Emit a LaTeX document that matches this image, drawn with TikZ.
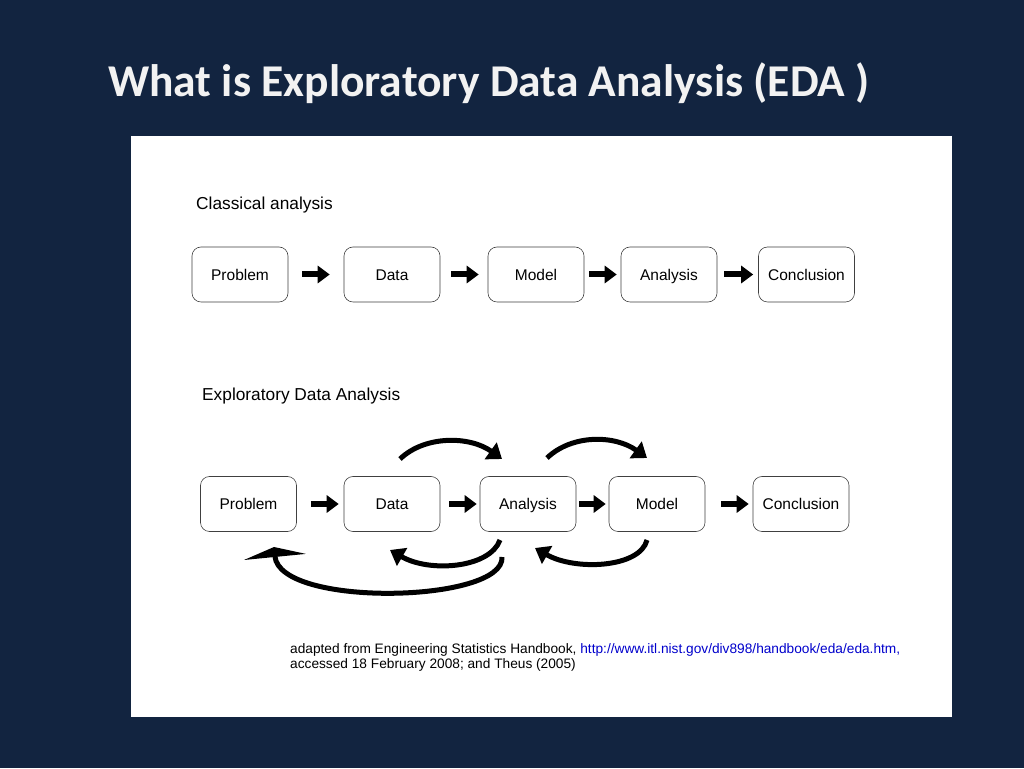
\documentclass[tikz,border=0pt]{standalone}
\usepackage{fontspec}
\setmainfont{Liberation Sans}
\newfontfamily\titlefont{Carlito}
\usetikzlibrary{arrows.meta}
\definecolor{slidebg}{RGB}{18,36,64}
\definecolor{titlewhite}{RGB}{242,242,242}
\definecolor{linkblue}{RGB}{0,0,204}

\begin{document}
\begin{tikzpicture}[x=1pt, y=1pt,
    stage/.style={draw=black!75, line width=0.6pt, rounded corners=9pt, fill=white,
        minimum width=96pt, minimum height=55pt, inner sep=0pt, text height=13pt, text depth=1pt,
        font=\fontsize{15.5}{18}\selectfont},
    flow/.style={line width=6pt, -{Triangle[length=12pt,width=17pt]}},
    feedback/.style={line width=5pt, -{Triangle[length=14pt,width=20pt]}},
    heading/.style={anchor=base west, inner sep=0pt, font=\fontsize{17.3}{20}\selectfont}]

    % ================= SLIDE =================
    \useasboundingbox (0,0) rectangle (1024,768);
    \fill[slidebg] (0,0) rectangle (1024,768);
    \fill[white] (131,51) rectangle (952,632);

    \node[anchor=base west, inner sep=0pt, text=titlewhite,
        font=\titlefont\bfseries\fontsize{45.5}{50}\selectfont] (title) at (108,671)
        {What is Exploratory Data Analysis (EDA )};

    % ================= CLASSICAL (top row) =================
    \node[heading] (clab) at (196,558) {Classical analysis};

    \node[stage] (cprob)  at (240,493.5)   {Problem};
    \node[stage] (cdata)  at (392,493.5)   {Data};
    \node[stage] (cmodel) at (536,493.5)   {Model};
    \node[stage] (cana)   at (669,493.5)   {Analysis};
    \node[stage] (cconc)  at (806.5,493.5) {Conclusion};

    \draw[flow, shorten <=14pt, shorten >=14pt] (cprob.east)  -- (cdata.west);
    \draw[flow, shorten <=11pt, shorten >=9pt]  (cdata.east)  -- (cmodel.west);
    \draw[flow, shorten <=5pt, shorten >=4pt]   (cmodel.east) -- (cana.west);
    \draw[flow, shorten <=7pt, shorten >=5pt]   (cana.east)   -- (cconc.west);

    % ================= EDA (bottom row) =================
    \node[heading] (elab) at (202,367) {Exploratory Data Analysis};

    \node[stage] (eprob)  at (248.5,264) {Problem};
    \node[stage] (edata)  at (392,264)   {Data};
    \node[stage] (eana)   at (528,264)   {Analysis};
    \node[stage] (emodel) at (657,264)   {Model};
    \node[stage] (econc)  at (801,264)   {Conclusion};

    \draw[flow, shorten <=14pt, shorten >=5pt] (eprob.east)  -- (edata.west);
    \draw[flow, shorten <=9pt, shorten >=3pt]  (edata.east)  -- (eana.west);
    \draw[flow, shorten <=3pt, shorten >=3pt]  (eana.east)   -- (emodel.west);
    \draw[flow, shorten <=16pt, shorten >=4pt] (emodel.east) -- (econc.west);

    % Loop ends (above and below the row)
    \coordinate (over1s)  at (400,309);  % above Data
    \coordinate (over1e)  at (502,309);  % above Analysis
    \coordinate (over2s)  at (547,310);
    \coordinate (over2e)  at (647,310);  % above Model
    \coordinate (under1s) at (500,228);  % below Analysis
    \coordinate (under1e) at (390,218);  % below Data
    \coordinate (under2s) at (647,228);  % below Model
    \coordinate (under2e) at (535,220);
    \coordinate (backs)   at (502,211);  % back to Problem
    \coordinate (backe)   at (274,221);

    \draw[feedback] (over1s) .. controls (425,333) and (470,332) .. (over1e);
    \draw[feedback] (over2s) .. controls (572,334) and (615,333) .. (over2e);
    \draw[feedback] (under1s) .. controls (490,200) and (430,195) .. (under1e);
    \draw[feedback] (under2s) .. controls (640,200) and (575,197) .. (under2e);
    \draw[feedback, -{Triangle[length=10pt,width=62pt]}]
        (backs) .. controls (505,165) and (280,160) .. (backe);

    % ================= SOURCE =================
    \node[anchor=base west, inner sep=0pt, font=\fontsize{13.7}{15}\selectfont] (src1) at (290,115)
        {adapted from Engineering Statistics Handbook, \textcolor{linkblue}{http://www.itl.nist.gov/div898/handbook/eda/eda.htm,}};
    \node[anchor=base west, inner sep=0pt, font=\fontsize{13.7}{15}\selectfont] (src2) at (290,100)
        {accessed 18 February 2008; and Theus (2005)};

\end{tikzpicture}
\end{document}
